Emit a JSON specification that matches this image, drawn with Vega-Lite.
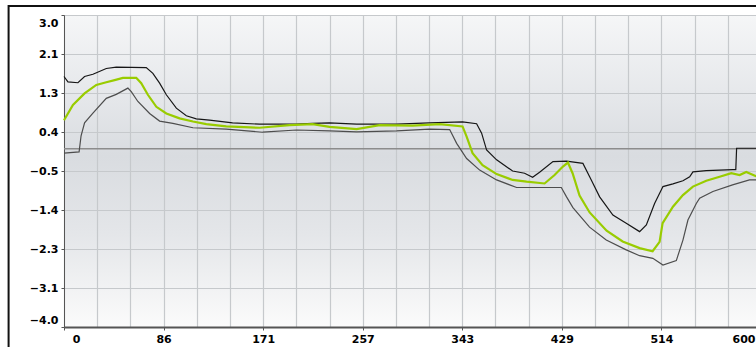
{
  "$schema": "https://vega.github.io/schema/vega-lite/v6.json",
  "width": 697,
  "height": 312,
  "autosize": {"type": "none"},
  "padding": {"left": 64, "top": 15, "right": 0, "bottom": 20},
  "background": "white",
  "config": {
    "view": {
      "stroke": "#9a9a9a",
      "strokeWidth": 1,
      "fill": {"gradient": "linear", "x1": 0, "y1": 0, "x2": 0, "y2": 1,
        "stops": [
          {"offset": 0, "color": "#f5f6f7"},
          {"offset": 0.25, "color": "#e6e8eb"},
          {"offset": 0.45, "color": "#d9dce0"},
          {"offset": 0.7, "color": "#e4e6e9"},
          {"offset": 1, "color": "#fbfbfb"}
        ]}
    },
    "axis": {
      "labelFont": "DejaVu Sans",
      "labelFontWeight": "bold",
      "labelFontSize": 11,
      "labelColor": "#000000",
      "gridColor": "#c6c9cc",
      "gridWidth": 1.2,
      "domainColor": "#555555",
      "tickColor": "#555555",
      "tickSize": 3,
      "tickCount": 100,
      "labelPadding": 3,
      "labelOverlap": false,
      "labelBound": false,
      "title": null
    }
  },
  "data": {"values": [
    {"s":"u","x":0,"y":1.62},{"s":"u","x":3.4,"y":1.5},{"s":"u","x":12,"y":1.48},{"s":"u","x":17.7,"y":1.62},{"s":"u","x":24.9,"y":1.67},{"s":"u","x":36.4,"y":1.8},{"s":"u","x":45,"y":1.83},{"s":"u","x":70.8,"y":1.82},{"s":"u","x":76.5,"y":1.69},{"s":"u","x":82.3,"y":1.47},{"s":"u","x":88.1,"y":1.21},{"s":"u","x":96.7,"y":0.91},{"s":"u","x":105.3,"y":0.74},{"s":"u","x":113.9,"y":0.67},{"s":"u","x":125.3,"y":0.64},{"s":"u","x":145.1,"y":0.58},{"s":"u","x":168.4,"y":0.55},{"s":"u","x":200.2,"y":0.55},{"s":"u","x":214,"y":0.57},{"s":"u","x":228.6,"y":0.58},{"s":"u","x":251.9,"y":0.55},{"s":"u","x":286.3,"y":0.55},{"s":"u","x":314.7,"y":0.58},{"s":"u","x":343.1,"y":0.6},{"s":"u","x":355.2,"y":0.56},{"s":"u","x":359.5,"y":0.35},{"s":"u","x":363.8,"y":-0.03},{"s":"u","x":372.4,"y":-0.25},{"s":"u","x":386.2,"y":-0.5},{"s":"u","x":396.5,"y":-0.55},{"s":"u","x":403.4,"y":-0.64},{"s":"u","x":409.4,"y":-0.53},{"s":"u","x":420.9,"y":-0.29},{"s":"u","x":432.6,"y":-0.28},{"s":"u","x":446.7,"y":-0.33},{"s":"u","x":453.9,"y":-0.7},{"s":"u","x":461.1,"y":-1.08},{"s":"u","x":472.5,"y":-1.49},{"s":"u","x":484,"y":-1.67},{"s":"u","x":495.5,"y":-1.86},{"s":"u","x":501.3,"y":-1.71},{"s":"u","x":508.4,"y":-1.23},{"s":"u","x":515.6,"y":-0.85},{"s":"u","x":524.2,"y":-0.79},{"s":"u","x":532.8,"y":-0.72},{"s":"u","x":538.6,"y":-0.63},{"s":"u","x":541.4,"y":-0.52},{"s":"u","x":552.9,"y":-0.49},{"s":"u","x":575.8,"y":-0.47},{"s":"u","x":578.3,"y":-0.47},{"s":"u","x":579,"y":0.01},{"s":"u","x":600,"y":0.01},
    {"s":"l","x":0,"y":-0.1},{"s":"l","x":13,"y":-0.07},{"s":"l","x":14.7,"y":0.29},{"s":"l","x":17.7,"y":0.58},{"s":"l","x":24.9,"y":0.8},{"s":"l","x":36.4,"y":1.13},{"s":"l","x":45,"y":1.22},{"s":"l","x":55,"y":1.36},{"s":"l","x":57.9,"y":1.28},{"s":"l","x":63.6,"y":1.06},{"s":"l","x":73.7,"y":0.79},{"s":"l","x":82.3,"y":0.62},{"s":"l","x":93.7,"y":0.57},{"s":"l","x":111,"y":0.47},{"s":"l","x":139.7,"y":0.44},{"s":"l","x":171,"y":0.37},{"s":"l","x":200.2,"y":0.42},{"s":"l","x":228.6,"y":0.4},{"s":"l","x":251.9,"y":0.38},{"s":"l","x":286.3,"y":0.4},{"s":"l","x":314.7,"y":0.44},{"s":"l","x":332,"y":0.43},{"s":"l","x":338,"y":0.12},{"s":"l","x":346.6,"y":-0.22},{"s":"l","x":357.8,"y":-0.48},{"s":"l","x":372.4,"y":-0.7},{"s":"l","x":389.6,"y":-0.87},{"s":"l","x":428.1,"y":-0.87},{"s":"l","x":432.6,"y":-1.08},{"s":"l","x":438.1,"y":-1.32},{"s":"l","x":452.4,"y":-1.76},{"s":"l","x":466.8,"y":-2.05},{"s":"l","x":484,"y":-2.27},{"s":"l","x":495.5,"y":-2.4},{"s":"l","x":506.9,"y":-2.46},{"s":"l","x":515.6,"y":-2.61},{"s":"l","x":527.1,"y":-2.51},{"s":"l","x":532.8,"y":-2.05},{"s":"l","x":537.1,"y":-1.6},{"s":"l","x":544.3,"y":-1.23},{"s":"l","x":547.2,"y":-1.11},{"s":"l","x":558.6,"y":-0.96},{"s":"l","x":575.5,"y":-0.81},{"s":"l","x":590.1,"y":-0.7},{"s":"l","x":600,"y":-0.7},
    {"s":"m","x":0,"y":0.64},{"s":"m","x":7.7,"y":0.98},{"s":"m","x":17.7,"y":1.24},{"s":"m","x":27.8,"y":1.43},{"s":"m","x":36.4,"y":1.49},{"s":"m","x":43.6,"y":1.54},{"s":"m","x":50.7,"y":1.59},{"s":"m","x":62.2,"y":1.59},{"s":"m","x":66.5,"y":1.47},{"s":"m","x":72.2,"y":1.21},{"s":"m","x":79.5,"y":0.94},{"s":"m","x":88.1,"y":0.79},{"s":"m","x":99.5,"y":0.68},{"s":"m","x":111,"y":0.61},{"s":"m","x":122.5,"y":0.55},{"s":"m","x":139.7,"y":0.5},{"s":"m","x":168.4,"y":0.47},{"s":"m","x":194.2,"y":0.53},{"s":"m","x":214,"y":0.55},{"s":"m","x":228.6,"y":0.49},{"s":"m","x":251.9,"y":0.44},{"s":"m","x":271.7,"y":0.53},{"s":"m","x":300.1,"y":0.52},{"s":"m","x":323.3,"y":0.55},{"s":"m","x":343.1,"y":0.5},{"s":"m","x":346.6,"y":0.27},{"s":"m","x":351.7,"y":-0.1},{"s":"m","x":360.3,"y":-0.37},{"s":"m","x":372.4,"y":-0.57},{"s":"m","x":386.2,"y":-0.7},{"s":"m","x":398.2,"y":-0.74},{"s":"m","x":413.7,"y":-0.78},{"s":"m","x":422.3,"y":-0.59},{"s":"m","x":429.5,"y":-0.4},{"s":"m","x":433.8,"y":-0.31},{"s":"m","x":437.8,"y":-0.55},{"s":"m","x":443.8,"y":-1.05},{"s":"m","x":452.5,"y":-1.43},{"s":"m","x":467.1,"y":-1.84},{"s":"m","x":480.9,"y":-2.08},{"s":"m","x":495.5,"y":-2.23},{"s":"m","x":506.7,"y":-2.3},{"s":"m","x":512.7,"y":-2.09},{"s":"m","x":515.3,"y":-1.67},{"s":"m","x":524.2,"y":-1.3},{"s":"m","x":532.8,"y":-1.04},{"s":"m","x":541.4,"y":-0.85},{"s":"m","x":552.9,"y":-0.72},{"s":"m","x":564.4,"y":-0.63},{"s":"m","x":574.4,"y":-0.55},{"s":"m","x":581.6,"y":-0.59},{"s":"m","x":587.3,"y":-0.52},{"s":"m","x":595.3,"y":-0.61},{"s":"m","x":600,"y":-0.66}
  ]},
  "layer": [
    {
      "data": {"values": [{}]},
      "mark": {"type": "rule", "color": "#8c8c8c", "strokeWidth": 1.5},
      "encoding": {
        "y": {"datum": 0, "type": "quantitative", "scale": {"domain": [-4, 3], "nice": false, "zero": false},
          "axis": {
            "values": [-4, -3.125, -2.25, -1.375, -0.5, 0.375, 1.25, 2.125, 3],
            "format": ".1f",
            "grid": true,
            "tickCount": 100,
            "domainWidth": 1,
            "labelFlush": true,
            "labelFlushOffset": -2
          }}
      }
    },
    {
      "transform": [{"filter": "datum.s === 'l'"}],
      "mark": {"type": "line", "color": "#4d4d4d", "strokeWidth": 1.2},
      "encoding": {
        "x": {"field": "x", "type": "quantitative", "scale": {"domain": [0, 600], "nice": false, "zero": false},
          "axis": {
            "values": [0, 28.571, 57.143, 85.714, 114.286, 142.857, 171.429, 200, 228.571, 257.143, 285.714, 314.286, 342.857, 371.429, 400, 428.571, 457.143, 485.714, 514.286, 542.857, 571.429, 600],
            "labelExpr": "abs(datum.value*7/600 - round(datum.value*7/600)) < 0.01 ? format(datum.value, '.0f') : ''",
            "tickOpacity": {"condition": {"test": "abs(datum.value*7/600 - round(datum.value*7/600)) < 0.01", "value": 1}, "value": 0},
            "grid": true,
            "tickCount": 100,
            "domainWidth": 2,
            "labelFlush": false,
            "labelAlign": {"condition": {"test": "datum.value > 599", "value": "right"}, "value": "center"},
            "labelOffset": {"expr": "datum.value < 1 ? 12 : (datum.value > 599 ? -6 : 0)"}
          }},
        "y": {"field": "y", "type": "quantitative"}
      }
    },
    {
      "transform": [{"filter": "datum.s === 'u'"}],
      "mark": {"type": "line", "color": "#161616", "strokeWidth": 1.2},
      "encoding": {
        "x": {"field": "x", "type": "quantitative"},
        "y": {"field": "y", "type": "quantitative"}
      }
    },
    {
      "transform": [{"filter": "datum.s === 'm'"}],
      "mark": {"type": "line", "color": "#99cc00", "strokeWidth": 2.2},
      "encoding": {
        "x": {"field": "x", "type": "quantitative"},
        "y": {"field": "y", "type": "quantitative"}
      }
    },
    {
      "data": {"values": [{}]},
      "mark": {"type": "rect", "fill": null, "fillOpacity": 0, "stroke": "#111111", "strokeWidth": 2},
      "encoding": {
        "x": {"datum": -47.7, "type": "quantitative"},
        "x2": {"datum": 650},
        "y": {"datum": 3.2, "type": "quantitative"},
        "y2": {"datum": -6}
      }
    }
  ]
}
